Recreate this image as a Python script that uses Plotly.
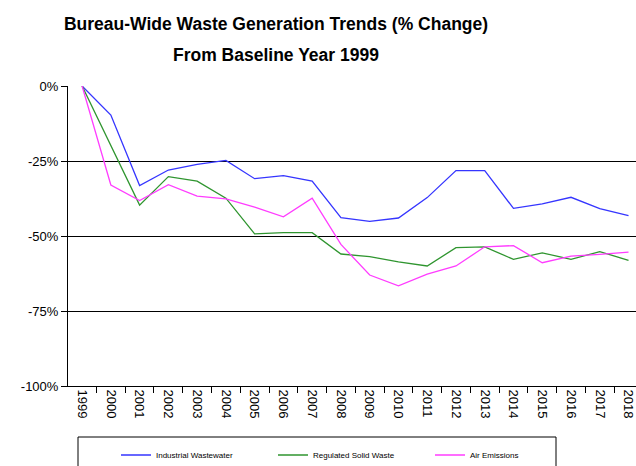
import plotly.graph_objects as go

years = [str(y) for y in range(1999, 2019)]
industrial_wastewater = [0, -9.7, -33.2, -28.0, -26.1, -24.8, -30.9, -29.9, -31.7, -43.9,
                         -45.1, -44.0, -37.2, -28.2, -28.2, -40.8, -39.3, -37.1, -40.9, -43.2]
regulated_solid_waste = [0, -19.8, -39.7, -30.2, -31.7, -37.4, -49.3, -48.9, -48.9, -56.0,
                         -56.9, -58.6, -60.0, -53.9, -53.6, -57.8, -55.6, -57.8, -55.2, -58.1]
air_emissions = [0, -33.0, -38.2, -32.9, -36.7, -37.6, -40.4, -43.6, -37.4, -52.8,
                 -63.0, -66.6, -62.7, -60.0, -53.6, -53.2, -58.9, -56.7, -56.1, -55.4]
y_ticks = [0, -25, -50, -75, -100]
y_tick_labels = ["0%", "-25%", "-50%", "-75%", "-100%"]
grid_vals = [-25, -50, -75]

series = [
    ("Industrial Wastewater", industrial_wastewater, "#3535ff"),
    ("Regulated Solid Waste", regulated_solid_waste, "#2f952f"),
    ("Air Emissions", air_emissions, "#ff3cff"),
]

fig = go.Figure()
for name, vals, col in series:
    fig.add_trace(go.Scatter(x=years, y=vals, mode="lines", name=name,
                             line=dict(color=col, width=1.3)))

FONT = "Liberation Sans, Arial, sans-serif"

fig.update_layout(
    width=636, height=466,
    margin=dict(l=68, r=0, t=86, b=80, autoexpand=False),
    paper_bgcolor="white", plot_bgcolor="white",
    font=dict(family=FONT, color="black", size=13),
    title=dict(text="<b>Bureau-Wide Waste Generation Trends (% Change)</b>",
               x=0.434, xanchor="center", xref="container",
               y=1 - 18 / 466, yanchor="top", yref="container",
               font=dict(size=17.5, family=FONT, color="black")),
    showlegend=True,
    legend=dict(orientation="h", x=0.0845, xanchor="left", y=-0.23, yanchor="middle",
                font=dict(size=8, family=FONT), entrywidth=112, entrywidthmode="pixels",
                bgcolor="rgba(0,0,0,0)", borderwidth=0),
)

fig.add_annotation(text="<b>From Baseline Year 1999</b>", xref="paper", yref="paper",
                   x=(276 - 68) / 568, y=1.0, yshift=19, xanchor="center", yanchor="bottom",
                   showarrow=False, font=dict(size=17.5, family=FONT, color="black"))

fig.update_xaxes(type="category", range=[-0.49, 19.26], tickson="boundaries",
                 ticks="outside", ticklen=6, tickcolor="black", tickwidth=1,
                 showline=True, linecolor="black", linewidth=1, automargin=False,
                 showgrid=False, tickangle=90, tickfont=dict(size=13))
fig.update_yaxes(range=[-100, 0], tickvals=y_ticks, ticktext=y_tick_labels,
                 ticks="outside", ticklen=6, tickcolor="black", automargin=False,
                 showline=True, linecolor="black", linewidth=1,
                 showgrid=False, zeroline=False, tickfont=dict(size=13),
                 minor=dict(tickvals=grid_vals, showgrid=True, gridcolor="black",
                            gridwidth=1, ticks=""))

fig.add_shape(type="rect", xref="paper", yref="paper",
              x0=(78 - 68) / 568, x1=(556 - 68) / 568, y0=-0.3, y1=-(437 - 386) / 300,
              line=dict(color="black", width=1), fillcolor="rgba(0,0,0,0)", layer="below")

fig.write_html("out.html", config={"displayModeBar": False},
               post_script="document.body.style.margin='0px';document.body.style.overflow='hidden';")
